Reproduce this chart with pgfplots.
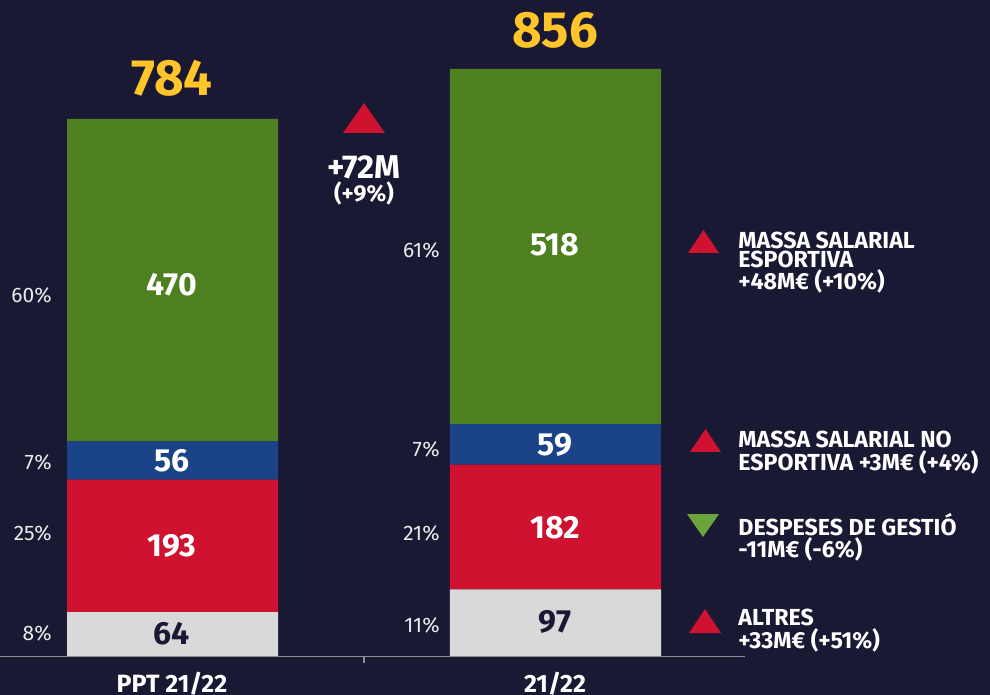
\documentclass[border=0pt]{standalone}
\usepackage{fontspec}
\setmainfont{Fira Sans}
\usepackage{pgfplots}
\pgfplotsset{compat=1.18}
\definecolor{bg}{HTML}{1A1934}
\definecolor{segGreen}{HTML}{4F8020}
\definecolor{segBlue}{HTML}{1A4487}
\definecolor{segRed}{HTML}{CF1230}
\definecolor{segGray}{HTML}{D9D9D9}
\definecolor{totYellow}{HTML}{FFC52A}
\definecolor{triGreen}{HTML}{6AA43A}
\definecolor{baseGray}{HTML}{8C8C99}

% one reference pixel = 0.5pt
\begin{document}
\begin{tikzpicture}
\useasboundingbox (0,0) rectangle (495pt,347.5pt);
\fill[bg] (0,0) rectangle (495pt,347.5pt);
\begin{axis}[
    at={(0,0)}, anchor=south west,
    scale only axis,
    width=495pt, height=347.5pt,
    xmin=-0.4504, xmax=2.1345,
    ymin=-56.85, ymax=956.3,
    hide axis,
    ybar stacked,
    bar width=105.5pt,
    every axis plot/.append style={draw=none},
]
\addplot[fill=segGray] coordinates {(0,64) (1,97)};
\addplot[fill=segRed] coordinates {(0,193) (1,182)};
\addplot[fill=segBlue] coordinates {(0,56) (1,59)};
\addplot[fill=segGreen] coordinates {(0,470) (1,518)};
\coordinate (TL) at (rel axis cs:0,1);
\end{axis}

\begin{scope}[shift={(TL)}, x=0.5pt, y=-0.5pt]
  % baseline
  \draw[baseGray, line width=0.6pt] (0,656.5) -- (745,656.5);
  \draw[baseGray, line width=0.6pt] (364,656.5) -- (364,663);
  % totals
  \node[text=totYellow, font=\bfseries\fontsize{25.5}{25.5}\selectfont] at (172,78) {784};
  \node[text=totYellow, font=\bfseries\fontsize{25.5}{25.5}\selectfont] at (555,30) {856};
  % segment values
  \begin{scope}[every node/.style={font=\bfseries\fontsize{16}{16}\selectfont, text=white}]
    \node at (172,285) {470};
    \node at (172,461) {56};
    \node at (172,546) {193};
    \node[text=bg] at (172,634) {64};
    \node at (555,245) {518};
    \node at (555,445) {59};
    \node at (555,528) {182};
    \node[text=bg] at (555,622) {97};
  \end{scope}
  % shares
  \begin{scope}[every node/.style={font=\fontsize{10.5}{10.5}\selectfont, text=white!92!black, anchor=east, inner sep=0pt}]
    \node at (52,295) {60\%};
    \node at (52,462) {7\%};
    \node at (52,533) {25\%};
    \node at (52,633) {8\%};
    \node at (440,250) {61\%};
    \node at (440,449) {7\%};
    \node at (440,533) {21\%};
    \node at (440,625) {11\%};
  \end{scope}
  % overall change
  \fill[segRed] (343,133) -- (385,133) -- (364,103) -- cycle;
  \node[text=white, inner sep=0pt, font=\bfseries\fontsize{16.5}{16.5}\selectfont] at (364,167) {+72M};
  \node[text=white, inner sep=0pt, font=\bfseries\fontsize{11.5}{11.5}\selectfont] at (364,193) {(+9\%)};
  % change by item
  \fill[segRed] (688,253) -- (719,253) -- (703.5,230) -- cycle;
  \fill[segRed] (690,452) -- (721,452) -- (705.5,429) -- cycle;
  \fill[triGreen] (687,514) -- (719,514) -- (703,537) -- cycle;
  \fill[segRed] (689,633) -- (721,633) -- (705,609) -- cycle;
  \begin{scope}[every node/.style={font=\bfseries\fontsize{11.6}{9.2}\selectfont, text=white, anchor=north west, align=left, inner sep=0pt}]
    \node at (738,232) {MASSA SALARIAL\\ESPORTIVA\\+48M€ (+10\%)};
    \node at (738,431) {MASSA SALARIAL NO\\ESPORTIVA +3M€ (+4\%)};
    \node at (738,513) {DESPESES DE GESTIÓ\\-11M€ (-6\%)};
    \node at (738,609) {ALTRES\\+33M€ (+51\%)};
  \end{scope}
  % categories
  \node[text=white, inner sep=0pt, font=\bfseries\fontsize{12.5}{12.5}\selectfont, anchor=base] at (172,692) {PPT 21/22};
  \node[text=white, inner sep=0pt, font=\bfseries\fontsize{12.5}{12.5}\selectfont, anchor=base] at (555,692) {21/22};
\end{scope}
\end{tikzpicture}
\end{document}
